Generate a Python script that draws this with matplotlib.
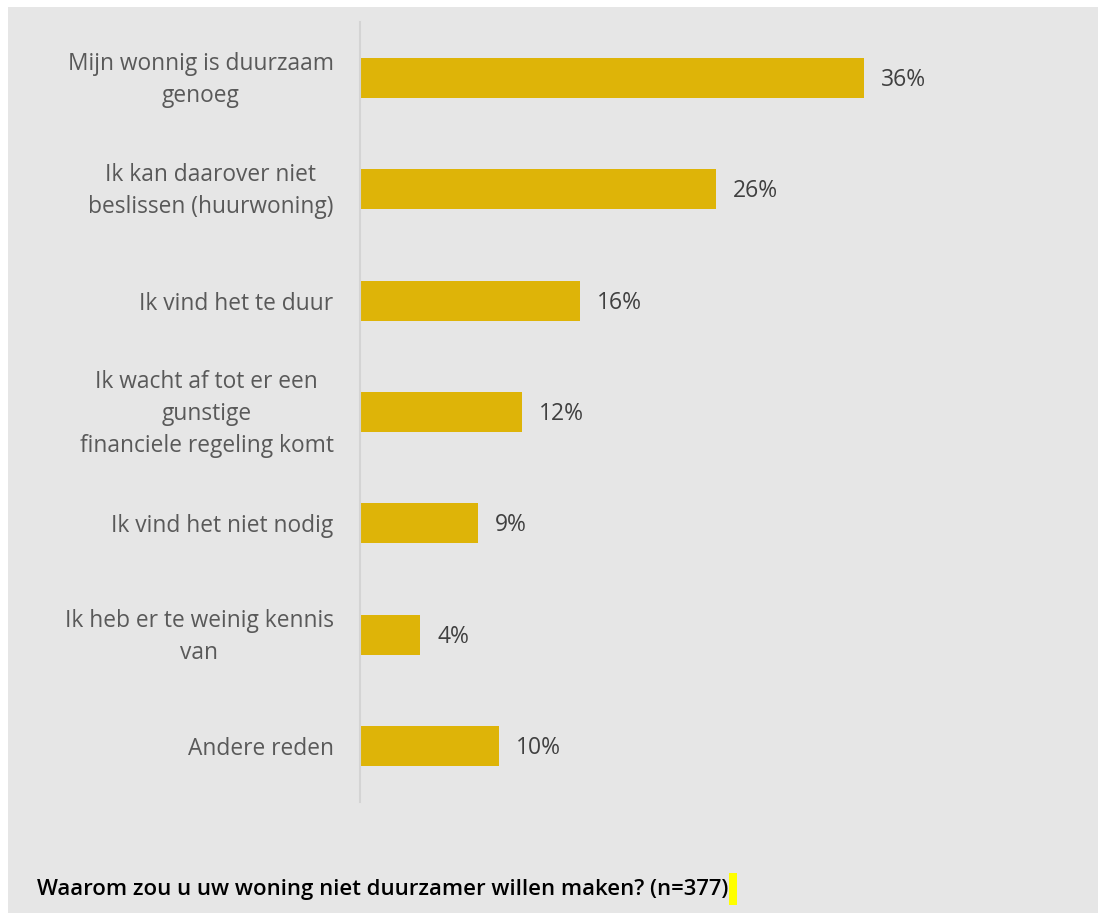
import matplotlib
matplotlib.use("Agg")
import matplotlib.pyplot as plt
from matplotlib.patches import Rectangle
from matplotlib.transforms import ScaledTranslation

categories = [
    "Mijn wonnig is duurzaam\ngenoeg",
    "Ik kan daarover niet\nbeslissen (huurwoning)",
    "Ik vind het te duur",
    "Ik wacht af tot er een\ngunstige\nfinanciele regeling komt",
    "Ik vind het niet nodig",
    "Ik heb er te weinig kennis\nvan",
    "Andere reden",
]
values = [36.0, 25.4, 15.7, 11.6, 8.4, 4.3, 9.9]
value_labels = ["36%", "26%", "16%", "12%", "9%", "4%", "10%"]
title = "Waarom zou u uw woning niet duurzamer willen maken? (n=377)"

W, H = 1099, 915
fig = plt.figure(figsize=(W / 100, H / 100), dpi=100)
fig.patch.set_facecolor("white")

bg = "#e6e6e6"
bgrect = Rectangle((8 / W, 1 - 913 / H), (1098 - 8) / W, (913 - 7) / H,
                   transform=fig.transFigure, facecolor=bg, edgecolor="none", zorder=-10)
fig.add_artist(bgrect)

ax_l, ax_r = 360, 1040
ax_t, ax_b = 22, 802
ax = fig.add_axes([ax_l / W, 1 - ax_b / H, (ax_r - ax_l) / W, (ax_b - ax_t) / H])
ax.set_facecolor("none")
ax.set_zorder(5)

n = len(categories)
ypos = list(range(n))
ax.barh(ypos, values, height=0.36, color="#DEB408", zorder=2)
ax.set_ylim(n - 0.5, -0.5)
ax.set_xlim(0, 36 * (ax_r - ax_l) / 504)

for y, v, lab in zip(ypos, values, value_labels):
    ax.annotate(lab, (v, y), xytext=(17, -2), textcoords="offset pixels",
                ha="left", va="center", fontsize=16.5, color="#404040", family="Open Sans")

ax.set_yticks(ypos)
ax.set_yticklabels(categories, fontsize=16.4, color="#595959", family="Open Sans", linespacing=1.45)
ax.tick_params(axis="y", length=0, pad=19)
for t in ax.get_yticklabels():
    t.set_multialignment("center")
    if "\n" in t.get_text():
        t.set_transform(t.get_transform() + ScaledTranslation(0, 5 / 100, fig.dpi_scale_trans))
ax.set_xticks([])
for s in ["top", "right", "bottom"]:
    ax.spines[s].set_visible(False)
ax.spines["left"].set_color("#d4d4d4")
ax.spines["left"].set_linewidth(1.5)

txt = fig.text(37 / W, 1 - 889 / H, title, fontsize=15.9, color="black",
               family="Open Sans", va="center", ha="left", fontweight="semibold", zorder=10)
fig.canvas.draw()
r = fig.canvas.get_renderer()
bb = txt.get_window_extent(r)
hl = Rectangle((bb.x1 / W + 1 / W, 1 - 905 / H), 8 / W, 32 / H,
               transform=fig.transFigure, facecolor="#ffff00", edgecolor="none", zorder=9)
fig.add_artist(hl)

fig.savefig("out.png", dpi=100, facecolor="white")
